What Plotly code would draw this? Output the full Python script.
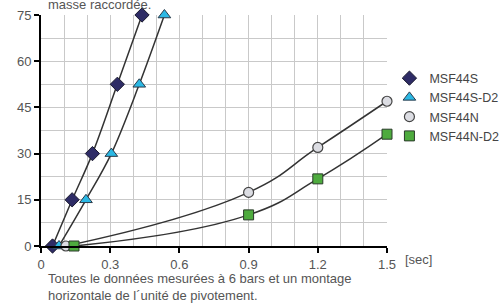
import plotly.graph_objects as go

series_names = ["MSF44S", "MSF44S-D2", "MSF44N", "MSF44N-D2"]
msf44s_x = [0.05, 0.135, 0.223, 0.331, 0.438]
msf44s_y = [0, 15, 30, 52.5, 75]
msf44sd2_x = [0.078, 0.195, 0.305, 0.426, 0.535]
msf44sd2_y = [0, 15, 30, 52.5, 75]
msf44n_x = [0.108, 0.9, 1.2, 1.5]
msf44n_y = [0, 17.4, 32, 47]
msf44nd2_x = [0.143, 0.9, 1.2, 1.5]
msf44nd2_y = [0, 10.1, 21.8, 36.3]

x_ticks = [0, 0.3, 0.6, 0.9, 1.2, 1.5]
y_ticks = [0, 15, 30, 45, 60, 75]

styles = [
    dict(symbol="diamond", size=11, color="#2e2c66", line=dict(color="#1a1a2e", width=1)),
    dict(symbol="triangle-up", size=11, color="#2bb8e4", line=dict(color="#2a3a4a", width=1)),
    dict(symbol="circle", size=10, color="#dcdde3", line=dict(color="#444444", width=1.2)),
    dict(symbol="square", size=10, color="#4eab3e", line=dict(color="#2a3a2a", width=1)),
]
xs = [msf44s_x, msf44sd2_x, msf44n_x, msf44nd2_x]
ys = [msf44s_y, msf44sd2_y, msf44n_y, msf44nd2_y]
smooth = [1.0, 1.0, 1.3, 1.3]

fig = go.Figure()
for name, x, y, sm in zip(series_names, xs, ys, smooth):
    fig.add_trace(go.Scatter(x=x, y=y, mode="lines", line=dict(color="#333333", width=1.5, shape="spline", smoothing=sm),
                             showlegend=False, cliponaxis=False, hoverinfo="skip"))
for name, x, y, st in zip(series_names, xs, ys, styles):
    fig.add_trace(go.Scatter(x=x, y=y, mode="markers", name=name, marker=st, cliponaxis=False))

grid = "#c9c9c9"
fig.update_layout(
    width=504, height=304,
    margin=dict(l=41, r=117, t=15, b=58, autoexpand=False),
    paper_bgcolor="white", plot_bgcolor="white",
    font=dict(family="Liberation Sans, Arial, sans-serif", size=12, color="#555555"),
    xaxis=dict(range=[0, 1.5], tickvals=x_ticks, ticktext=[f"{v:g}" for v in x_ticks],
               showgrid=True, gridcolor=grid, gridwidth=1,
               minor=dict(dtick=0.1, showgrid=True, gridcolor=grid, gridwidth=1),
               ticks="outside", ticklen=5, tickwidth=1.5, tickcolor="black",
               showline=True, linecolor="black", linewidth=2, zeroline=False,
               tickfont=dict(size=13, color="#555555"), automargin=False),
    yaxis=dict(range=[0, 75], tickvals=y_ticks,
               showgrid=True, gridcolor=grid, gridwidth=1,
               minor=dict(dtick=7.5, showgrid=True, gridcolor=grid, gridwidth=1),
               ticks="outside", ticklen=5, tickwidth=1.5, tickcolor="black",
               showline=True, linecolor="black", linewidth=2, zeroline=False,
               tickfont=dict(size=13, color="#555555"), automargin=False),
    legend=dict(x=1.007, y=0.79, xanchor="left", yanchor="top", itemwidth=30,
                font=dict(size=12.5, color="#444444"), tracegroupgap=0,
                bgcolor="rgba(0,0,0,0)"),
)
fig.add_annotation(text="masse raccordée.", xref="paper", yref="paper", x=0.17, y=1.0, yshift=1,
                   xanchor="center", yanchor="bottom", showarrow=False,
                   font=dict(size=13, color="#555555"))
fig.add_annotation(text="[sec]", xref="paper", yref="paper", x=1.0, y=0, xshift=16, yshift=-4,
                   xanchor="left", yanchor="top", showarrow=False,
                   font=dict(size=13, color="#555555"))
fig.add_annotation(text="Toutes le données mesurées à 6 bars et un montage<br>horizontale de l´unité de pivotement.",
                   xref="paper", yref="paper", x=0, y=0, xshift=5, yshift=-23,
                   xanchor="left", yanchor="top", align="left", showarrow=False,
                   font=dict(size=13, color="#555555"))
fig.write_html("out.html", config={"displayModeBar": False},
               post_script="document.body.style.margin='0';document.body.style.overflow='hidden';")
